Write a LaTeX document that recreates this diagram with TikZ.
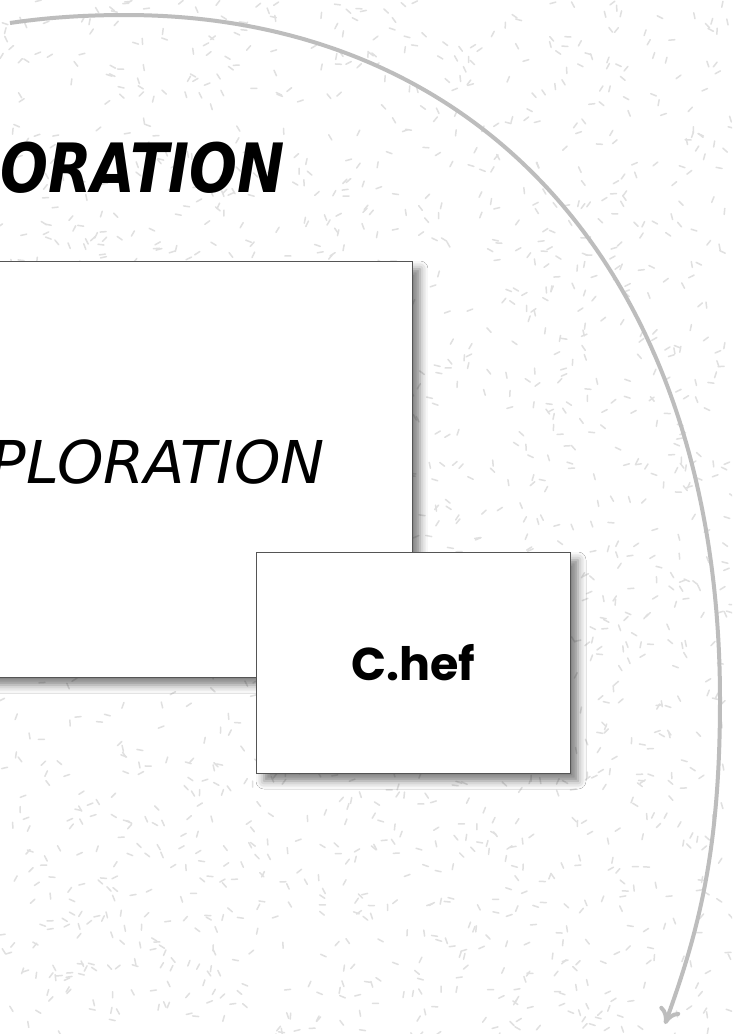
\documentclass[tikz,border=0pt]{standalone}
\usepackage{fontspec}
\usepackage{graphicx}
\usetikzlibrary{arrows.meta,shadows.blur}
\newfontfamily\handbold{DejaVu Sans Bold Oblique}
\newfontfamily\handthin{DejaVu Sans Oblique}
\newfontfamily\chefface{Poppins Bold}
\definecolor{arcgray}{HTML}{BDBDBD}
\definecolor{boxline}{HTML}{555555}
\definecolor{speckgray}{HTML}{E0E0E0}
\tikzset{
  speck/.style={draw=speckgray, line width=1.5pt, line cap=round},
  card/.style={draw=boxline, line width=1pt, fill=white, inner sep=0pt,
    blur shadow={shadow xshift=8pt, shadow yshift=-8pt, shadow blur radius=8pt, shadow blur extra rounding=0pt, shadow opacity=50}},
  loopline/.style={draw=arcgray, line width=4pt, -{To[length=16pt,width=22pt,line width=4pt]}}
}
\begin{document}
\begin{tikzpicture}[x=1pt,y=-1pt]
            \useasboundingbox (0,0) rectangle (732,1034);
            \clip (0,0) rectangle (732,1034);
            \fill[white] (0,0) rectangle (732,1034);
            \pgfmathsetseed{4711}
            \foreach \i in {1,...,1900}{
                \pgfmathsetmacro\px{732*rnd}
                \pgfmathsetmacro\py{1034*rnd}
                \pgfmathsetmacro\pa{180*rnd}
                \draw[speck] (\px,\py) -- ++(\pa:6);
            }
            \node[anchor=base east, inner sep=0pt] (title) at (285,192) {\fontsize{68}{80}\handbold\scalebox{0.83}[1]{ORATION}};
            \node[card, minimum width=812pt, minimum height=416pt] (explorebox) at (6,469) {};
            \node[anchor=base east, inner sep=0pt] (explorelabel) at (325,483) {\fontsize{59}{70}\handthin PLORATION};
            \node[card, minimum width=314pt, minimum height=221pt] (chefbox) at (413,662.5) {\fontsize{46}{54}\chefface C.hef};
            \coordinate (arcstart) at (10,23);
            \coordinate (arcend) at (665,1024);
            \draw[loopline] (arcstart) .. controls (50,17) and (90,15) .. (125,15)
                .. controls (488,15) and (720,282) .. (720,700)
                .. controls (720,850) and (699,930) .. (arcend);
        \end{tikzpicture}
\end{document}
